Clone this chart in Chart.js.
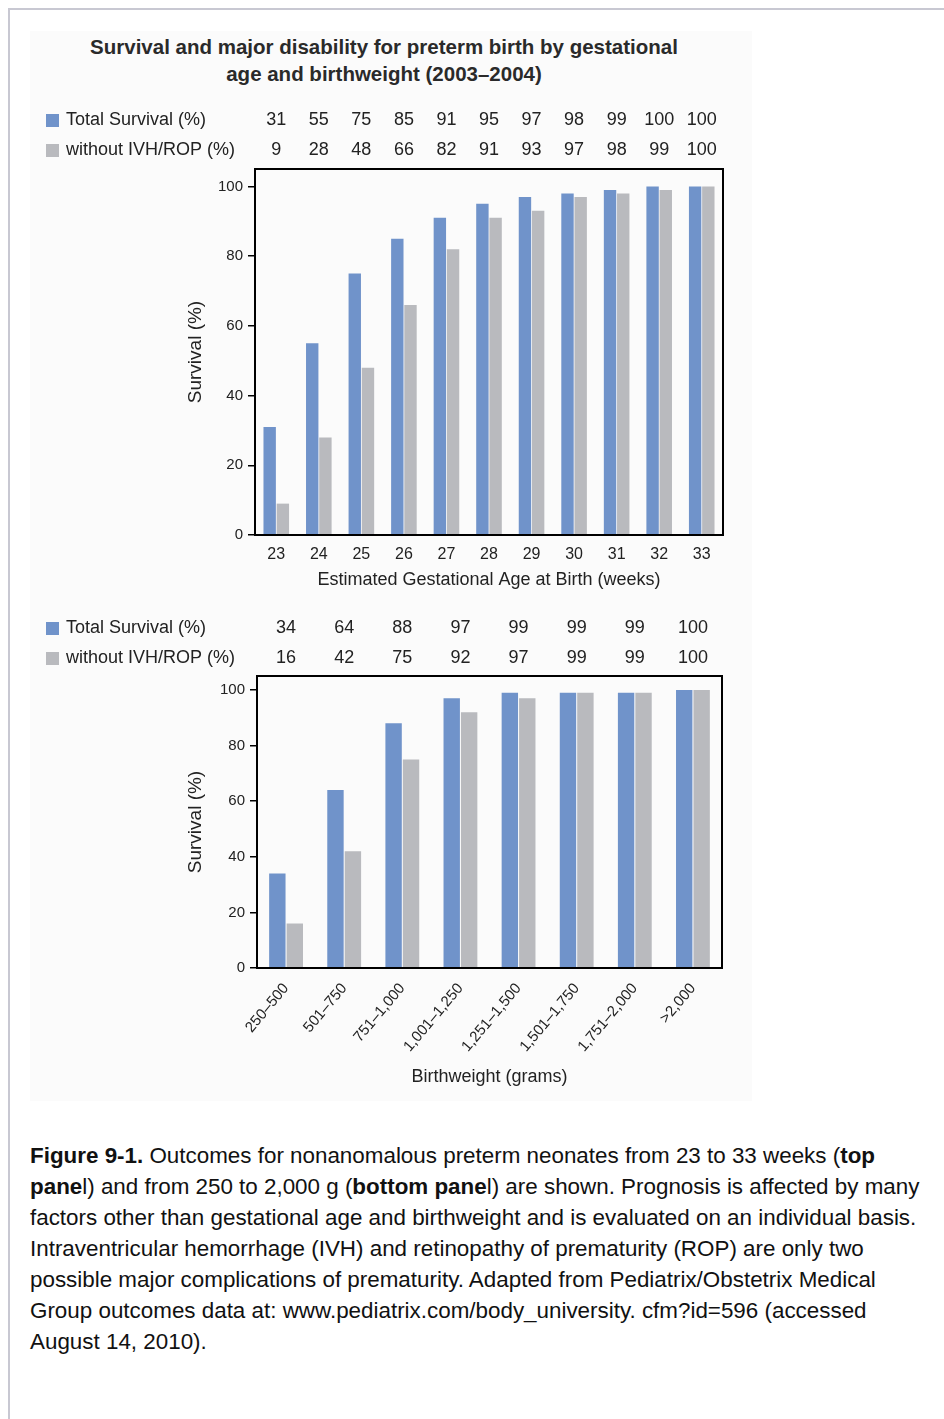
<!DOCTYPE html>
<html>
<head>
<meta charset="utf-8">
<script src="https://cdn.jsdelivr.net/npm/chart.js@4.4.0/dist/chart.umd.min.js"></script>
<style>
  body { margin: 0; background: #fff; width: 944px; height: 1419px; position: relative; overflow: hidden;
         font-family: "Liberation Sans", Arial, sans-serif; color: #222; }
  .frame { position: absolute; left: 8px; top: 8px; width: 960px; height: 1440px;
           border-top: 2px solid #c8c8d2; border-left: 2px solid #c8c8d2; }
  .panel { position: absolute; left: 30px; top: 31px; width: 722px; height: 1070px; background: #fbfbfb; }
  .title { position: absolute; left: 30px; width: 708px; text-align: center; font-weight: bold;
           font-size: 20.5px; line-height: 24px; color: #2a2a2a; }
  .box { position: absolute; left: 30px; width: 720px; }
  .caption { position: absolute; left: 30px; top: 1140px; font-size: 22.4px; line-height: 31px; white-space: nowrap; color: #111; }
</style>
</head>
<body>
<div class="frame"></div>
<div class="panel"></div>
<div class="title" style="top:35px">Survival and major disability for preterm birth by gestational</div>
<div class="title" style="top:62px">age and birthweight (2003–2004)</div>
<div class="box" style="top:95px;height:500px"><canvas id="ageChart"></canvas></div>
<div class="box" style="top:600px;height:492px"><canvas id="weightChart"></canvas></div>
<div class="caption">
<b>Figure 9-1.</b> Outcomes for nonanomalous preterm neonates from 23 to 33 weeks (<b>top</b><br>
<b>pane</b>l) and from 250 to 2,000 g (<b>bottom pane</b>l) are shown. Prognosis is affected by many<br>
factors other than gestational age and birthweight and is evaluated on an individual basis.<br>
Intraventricular hemorrhage (IVH) and retinopathy of prematurity (ROP) are only two<br>
possible major complications of prematurity. Adapted from Pediatrix/Obstetrix Medical<br>
Group outcomes data at: www.pediatrix.com/body_university. cfm?id=596 (accessed<br>
August 14, 2010).
</div>
<script>
// data
const weeks = ['23', '24', '25', '26', '27', '28', '29', '30', '31', '32', '33'];
const weekTotal = [31, 55, 75, 85, 91, 95, 97, 98, 99, 100, 100];
const weekNoIvh = [9, 28, 48, 66, 82, 91, 93, 97, 98, 99, 100];

const weights = ['250–500', '501–750', '751–1,000', '1,001–1,250', '1,251–1,500', '1,501–1,750', '1,751–2,000', '>2,000'];
const weightTotal = [34, 64, 88, 97, 99, 99, 99, 100];
const weightNoIvh = [16, 42, 75, 92, 97, 99, 99, 100];

const yTicks = [0, 20, 40, 60, 80, 100];

const blue = '#7093ca';
const grey = '#b9babe';
const textColor = '#222';
Chart.defaults.font.family = '"Liberation Sans", Arial, sans-serif';

// value table rows above the plot + box around the plot
const valueRows = {
  id: 'valueRows',
  afterDraw(chart, args, opts) {
    const ctx = chart.ctx;
    const x = chart.scales.x;
    ctx.save();
    ctx.font = opts.font;
    ctx.textBaseline = 'middle';
    chart.data.datasets.forEach((ds, i) => {
      const y = opts.rowY[i];
      ctx.fillStyle = ds.backgroundColor;
      ctx.fillRect(opts.boxX, y - 6, 13, 13);
      ctx.fillStyle = textColor;
      ctx.textAlign = 'left';
      ctx.fillText(ds.label, opts.boxX + 20, y);
      ctx.textAlign = 'center';
      ds.data.forEach((v, j) => ctx.fillText(v, x.getPixelForValue(j), y));
    });
    const a = chart.chartArea;
    ctx.strokeStyle = '#000';
    ctx.lineWidth = 2;
    ctx.strokeRect(a.left, a.top, a.right - a.left, a.bottom - a.top);
    ctx.restore();
  }
};

function makeChart(id, labels, total, noIvh, opt) {
  return new Chart(document.getElementById(id).getContext('2d'), {
    type: 'bar',
    data: {
      labels: labels,
      datasets: [
        { label: 'Total Survival (%)', data: total, backgroundColor: blue },
        { label: 'without IVH/ROP (%)', data: noIvh, backgroundColor: grey }
      ]
    },
    options: {
      responsive: true,
      maintainAspectRatio: false,
      animation: false,
      categoryPercentage: opt.catPct,
      barPercentage: 0.94,
      layout: { padding: opt.padding },
      plugins: {
        legend: { display: false },
        tooltip: { enabled: false },
        valueRows: { font: '18px "Liberation Sans", Arial, sans-serif', rowY: opt.rowY, boxX: 16 }
      },
      scales: {
        x: {
          grid: { display: false },
          border: { color: '#000', width: 2 },
          ticks: { color: textColor, font: { size: opt.xFont }, padding: opt.xPad,
                   autoSkip: false, minRotation: opt.rot, maxRotation: opt.rot },
          title: { display: true, text: opt.xTitle, color: textColor, font: { size: 18 },
                   padding: { top: 4, bottom: 4 } },
          afterFit: s => { s.height = opt.xHeight; }
        },
        y: {
          min: 0,
          max: 105,
          afterBuildTicks: s => { s.ticks = yTicks.map(v => ({ value: v })); },
          ticks: { color: textColor, font: { size: 15 }, padding: 5 },
          grid: { drawOnChartArea: false, drawTicks: true, tickLength: 7, color: '#000', lineWidth: 1.5 },
          border: { color: '#000', width: 2 },
          title: { display: true, text: 'Survival (%)', color: textColor, font: { size: 19 } },
          afterFit: s => { s.width = opt.yWidth; }
        }
      }
    },
    plugins: [valueRows]
  });
}

makeChart('ageChart', weeks, weekTotal, weekNoIvh, {
  catPct: 0.62, padding: { left: 150, top: 74, right: 27, bottom: 0 },
  rowY: [25, 55], xFont: 16, xPad: 2, rot: 0, xHeight: 60, yWidth: 75,
  xTitle: 'Estimated Gestational Age at Birth (weeks)'
});

makeChart('weightChart', weights, weightTotal, weightNoIvh, {
  catPct: 0.6, padding: { left: 150, top: 76, right: 28, bottom: 0 },
  rowY: [28, 58], xFont: 15, xPad: 4, rot: 50, xHeight: 124, yWidth: 77,
  xTitle: 'Birthweight (grams)'
});
</script>
</body>
</html>
